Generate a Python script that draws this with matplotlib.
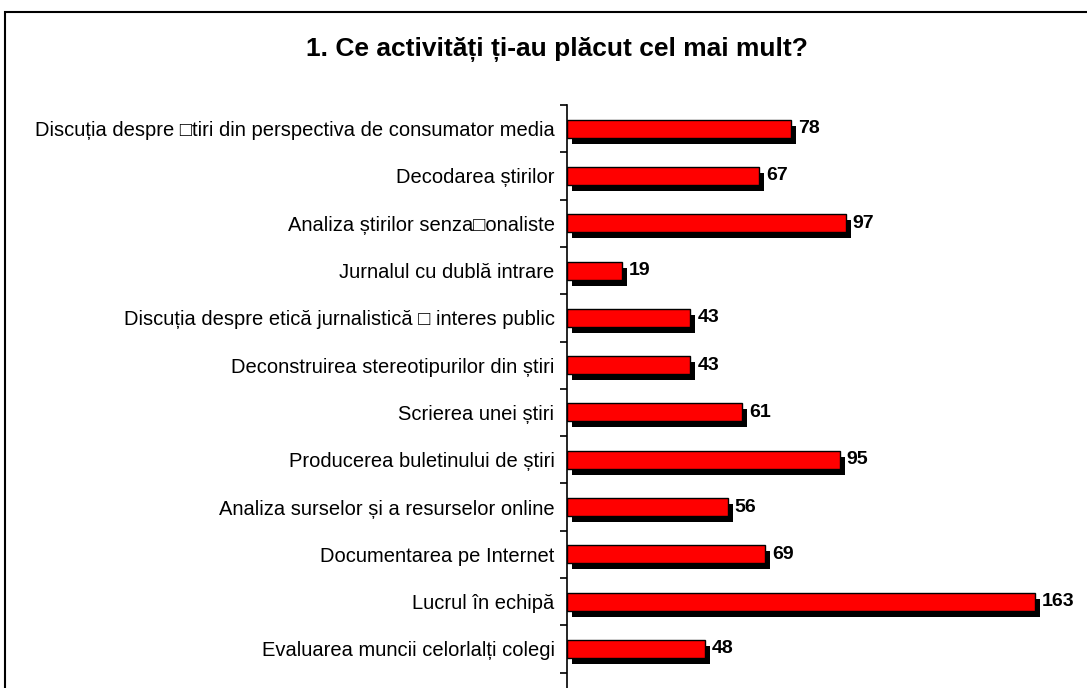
import matplotlib.pyplot as plt
import matplotlib.transforms as mtransforms
from matplotlib.patches import Rectangle

plt.rcParams["font.family"] = ["Liberation Sans", "DejaVu Sans"]

TITLE = "1. Ce activități ți-au plăcut cel mai mult?"
activities = [
    "Discuția despre \u25a1tiri din perspectiva de consumator media",
    "Decodarea știrilor",
    "Analiza știrilor senza\u25a1onaliste",
    "Jurnalul cu dublă intrare",
    "Discuția despre etică jurnalistică \u25a1 interes public",
    "Deconstruirea stereotipurilor din știri",
    "Scrierea unei știri",
    "Producerea buletinului de știri",
    "Analiza surselor și a resurselor online",
    "Documentarea pe Internet",
    "Lucrul în echipă",
    "Evaluarea muncii celorlalți colegi",
]
counts = [78, 67, 97, 19, 43, 43, 61, 95, 56, 69, 163, 48]

fig = plt.figure(figsize=(10.87, 6.88), dpi=100)

# outer chart frame (runs off the right and bottom edges like the source)
fig.patches.append(Rectangle((5 / 1087, -0.05), 1.2, 1 - 12 / 688 + 0.05,
                             transform=fig.transFigure, fill=False,
                             edgecolor="black", linewidth=1.5))

fig.text(557 / 1087, 1 - 50 / 688, TITLE, ha="center", va="center",
         fontsize=19, fontweight="bold")

# axes: left at x=567, top boundary at y=105, running to the bottom edge
ax = fig.add_axes([567 / 1087, 0, 1 - 567 / 1087, 1 - 105 / 688])
row_px = 47.3
ax.set_ylim((688 - 105) / row_px - 0.5, -0.5)
ax.set_xlim(0, (1087 - 567) / (468 / 163))

positions = list(range(len(activities)))
shadow = ax.transData + mtransforms.ScaledTranslation(5 / 100, -6 / 100, fig.dpi_scale_trans)
ax.barh(positions, counts, height=0.38, color="black", transform=shadow, clip_on=False)
ax.barh(positions, counts, height=0.38, color="#ff0000", edgecolor="black", linewidth=1)

for pos, value in zip(positions, counts):
    ax.annotate(str(value), (value, pos), xytext=(5, 0), textcoords="offset points",
                ha="left", va="center", fontsize=14, fontweight="bold")

ax.set_yticks([p - 0.5 for p in positions] + [len(positions) - 0.5])
ax.set_yticklabels([])
ax.set_yticks(positions, minor=True)
ax.set_yticklabels(activities, minor=True, fontsize=14.5)
ax.tick_params(axis="y", which="minor", length=0, pad=9)
ax.tick_params(axis="y", which="major", length=5, width=1.2, direction="out")
ax.set_xticks([])
for side in ("top", "right", "bottom"):
    ax.spines[side].set_visible(False)
ax.spines["left"].set_linewidth(1.2)

fig.savefig("out.png", dpi=100)
